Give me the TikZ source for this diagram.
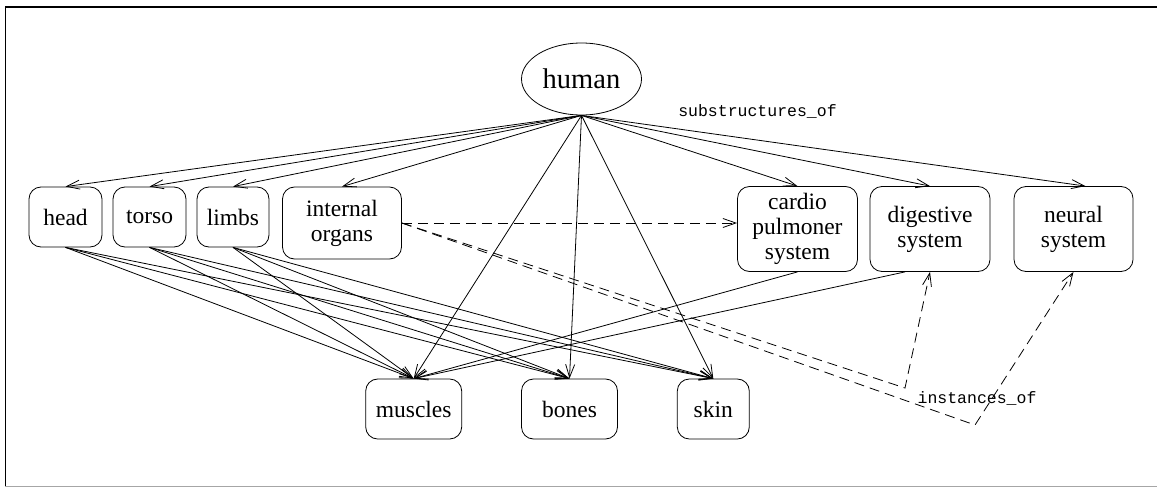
\documentclass[tikz,border=0pt]{standalone}
\usepackage{fontspec}
\setmainfont{Liberation Serif}
\setmonofont{Liberation Mono}
\usetikzlibrary{arrows.meta,shapes.geometric}

\begin{document}
\begin{tikzpicture}[x=1pt,y=-1pt,
  box/.style={draw, rounded corners=12pt, line width=0.8pt, align=center,
    inner sep=0pt, font=\fontsize{23.5}{25}\selectfont},
  rel/.style={line width=0.8pt, -{Straight Barb[length=13pt,width=9pt]}},
  inst/.style={rel, dash pattern=on 10pt off 6pt},
  lbl/.style={font=\ttfamily\fontsize{16.5}{18}\selectfont, inner sep=0pt}]
\useasboundingbox (0,0) rectangle (1157,487);

% frame
\draw[line width=1.5pt] (5,7) -- (1157,7);
\draw[line width=1.5pt] (5.5,7) -- (5.5,486);
\draw[line width=1pt, black!35] (5,486) -- (1157,486);

% top concept
\node[draw, ellipse, minimum width=120pt, minimum height=72pt, inner sep=0pt,
  line width=0.8pt, font=\fontsize{28.5}{30}\selectfont] (human) at (581.5,79) {human};

% substructures
\node[box, minimum width=73pt, minimum height=60pt] (head) at (65.5,217) {head};
\node[box, minimum width=73pt, minimum height=60pt] (torso) at (149.5,217) {torso};
\node[box, minimum width=72pt, minimum height=60pt] (limbs) at (233,217) {limbs};
\node[box, minimum width=119pt, minimum height=72pt] (organs) at (342,223) {internal\\organs};
\node[box, minimum width=120pt, minimum height=85pt] (cardio) at (797.5,229) {cardio\\pulmoner\\system};
\node[box, minimum width=120pt, minimum height=85pt] (digestive) at (930,229) {digestive\\system};
\node[box, minimum width=119pt, minimum height=85pt] (neural) at (1073.5,229) {neural\\system};

% tissues
\node[box, minimum width=96pt, minimum height=60pt] (muscles) at (413.7,409) {muscles};
\node[box, minimum width=96pt, minimum height=60pt] (bones) at (569.5,409) {bones};
\node[box, minimum width=72pt, minimum height=60pt] (skin) at (713.3,409) {skin};

% labels
\node[lbl] (subst) at (757.5,111) {substructures\_of};
\node[lbl] (instlbl) at (977,398) {instances\_of};

% substructures_of relations
\foreach \t in {head,torso,limbs,organs,cardio,digestive,muscles,bones,skin}
  \draw[rel] (human.south) -- (\t.north);
\draw[rel] (human.south) -- ([xshift=12pt]neural.north);

\foreach \s in {head,torso,limbs}
  \foreach \t in {muscles,bones,skin}
    \draw[rel] (\s.south) -- (\t.north);

\draw[rel] (cardio.south) -- (muscles.north);
\draw[rel] ([xshift=-25pt]digestive.south) -- (muscles.north);

% instances_of relations
\coordinate (bendA) at (905,388);
\coordinate (bendB) at (975,425);
\draw[inst] (organs.east) -- (organs.east -| cardio.west);
\draw[inst] (organs.east) -- (bendA) -- (digestive.south);
\draw[inst] (organs.east) -- (bendB) -- (neural.south);
\end{tikzpicture}
\end{document}
